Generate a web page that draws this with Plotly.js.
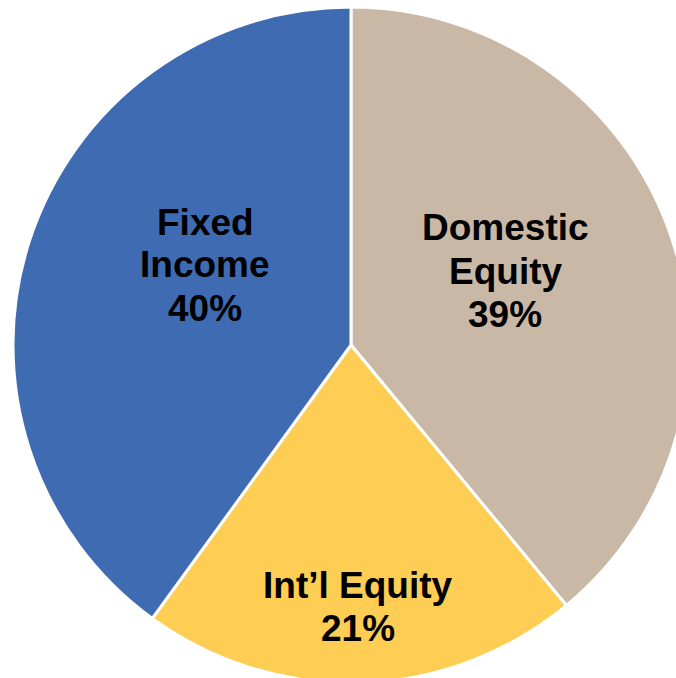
<!DOCTYPE html>
<html>
<head>
<meta charset="utf-8">
<script src="https://cdn.plot.ly/plotly-3.0.1.min.js"></script>
<style>
  html, body { margin: 0; padding: 0; overflow: hidden; background: #ffffff; }
  #chart { width: 702px; height: 700px; }
</style>
</head>
<body>
<div id="chart"></div>
<script>
// ---- data ----
const categories = ["Domestic Equity", "Int\u2019l Equity", "Fixed Income"];
const labelLines = [["Domestic", "Equity"], ["Int\u2019l Equity"], ["Fixed", "Income"]];
const values = [39, 21, 40];
const colors = ["#C8B8A5", "#FECD53", "#3F6BB3"];

// ---- layout geometry (pixels in page) ----
const L = 13, T = 7, SIZE = 676;
const px = x => (x - L) / SIZE;
const py = y => (T + SIZE - y) / SIZE;
// label anchor (center x, first line center y) per category
const labelPos = [[505, 228], [358, 585], [205, 222]];
const lineGap = 43;

const total = values.reduce((a, b) => a + b, 0);
const annotations = [];
categories.forEach((c, i) => {
  const lines = labelLines[i].concat([Math.round(values[i] / total * 100) + "%"]);
  lines.forEach((t, k) => {
    annotations.push({
      text: t,
      xref: "paper", yref: "paper",
      x: px(labelPos[i][0]), y: py(labelPos[i][1] + k * lineGap),
      xanchor: "center", yanchor: "middle",
      showarrow: false,
      font: { family: "Liberation Sans, Arial, sans-serif", size: 37, color: "#000000", weight: "bold" }
    });
  });
});

const trace = {
  type: "pie",
  labels: categories,
  values: values,
  sort: false,
  direction: "clockwise",
  rotation: 0,
  textinfo: "none",
  hoverinfo: "label+percent",
  marker: { colors: colors, line: { color: "#ffffff", width: 3 } },
  showlegend: false
};

const layout = {
  width: 702, height: 700,
  margin: { l: L, r: 702 - L - SIZE, t: T, b: 700 - T - SIZE, pad: 0 },
  paper_bgcolor: "#ffffff",
  plot_bgcolor: "#ffffff",
  showlegend: false,
  annotations: annotations
};

Plotly.newPlot("chart", [trace], layout, { displayModeBar: false, staticPlot: true });
</script>
</body>
</html>
